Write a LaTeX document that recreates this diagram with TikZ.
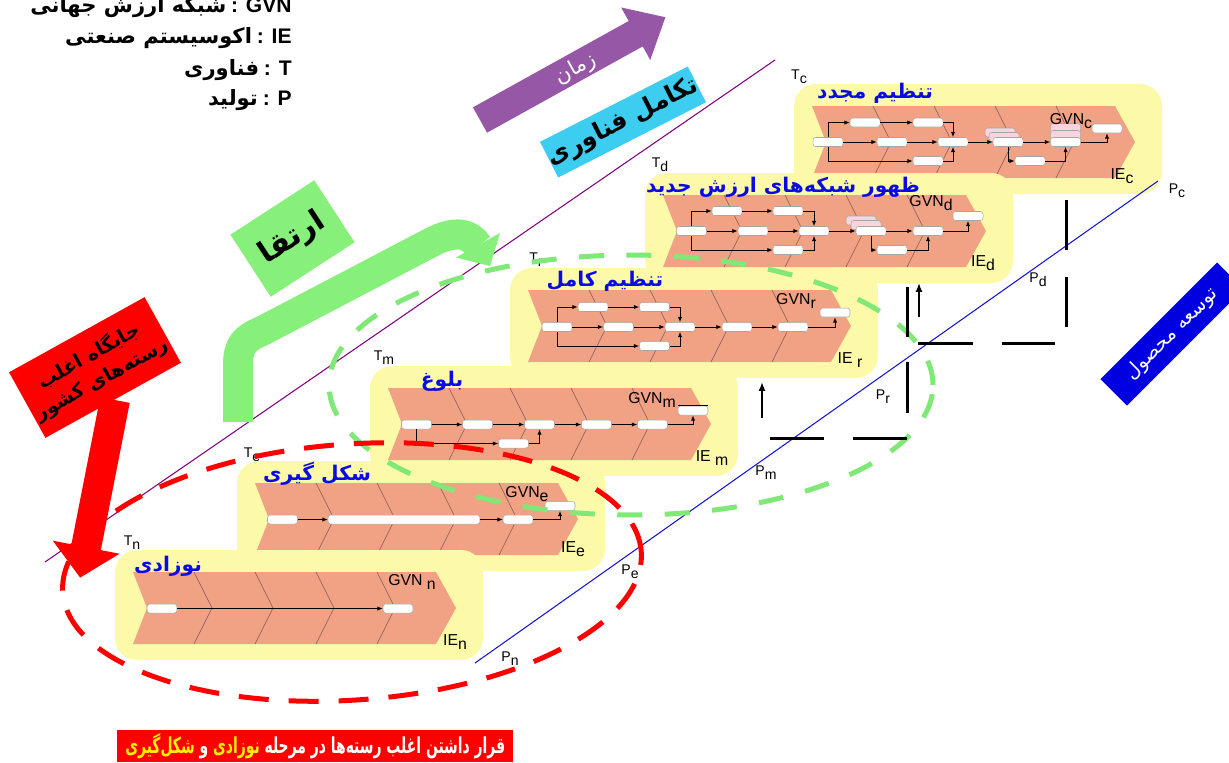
\documentclass[tikz,border=0pt]{standalone}
\usepackage{fontspec}
\setmainfont{Liberation Sans}
\newfontfamily\fa[Script=Arabic]{DejaVu Sans}
\TeXXeTstate=1
\usetikzlibrary{arrows.meta}
\definecolor{ylw}{RGB}{252,250,168}
\definecolor{slm}{RGB}{242,162,132}
\definecolor{dvl}{RGB}{130,90,80}
\definecolor{prp}{RGB}{150,88,166}
\definecolor{cyn}{RGB}{60,205,240}
\definecolor{lgr}{RGB}{134,240,122}
\definecolor{dgr}{RGB}{128,232,118}
\definecolor{bbx}{RGB}{0,0,225}
\definecolor{ttl}{RGB}{10,10,230}
\definecolor{pnk}{RGB}{250,212,220}
\definecolor{plin}{RGB}{128,0,128}
\definecolor{blin}{RGB}{20,20,210}
\newcommand\sbs[1]{\raisebox{-0.55ex}{#1}}
\newcommand\stagebg[2]{%
  \fill[ylw,rounded corners=0.44cm] (#1-18,#2-22) rectangle (#1+350,#2+88);
  \fill[slm] (#1,#2) -- (#1+303,#2) -- (#1+323,#2+36) -- (#1+303,#2+72) -- (#1,#2+72) -- (#1+14,#2+36) -- cycle;
  \foreach \k in {1,2,3,4}{\draw[dvl,line width=0.35pt] (#1+61*\k,#2) -- (#1+61*\k+18,#2+36) -- (#1+61*\k,#2+72);}
}
\begin{document}
\begin{tikzpicture}[x=0.02cm,y=-0.02cm,
  pb/.style={draw=black!35, fill=white, rounded corners=1.5pt, minimum width=0.6cm, minimum height=0.18cm, inner sep=0pt, line width=0.3pt},
  pk/.style={pb, fill=pnk},
  ar/.style={-{Latex[length=3pt,width=2.4pt]}, line width=0.55pt},
  lbl/.style={font=\fontsize{9}{10}\selectfont, inner sep=0pt},
  tl/.style={font=\fontsize{8}{9}\selectfont, inner sep=0pt},
  ttlst/.style={text=ttl, font=\fontsize{11.5}{13}\fa\bfseries, inner sep=0pt},
  stair/.style={line width=0.06cm, black},
]
\useasboundingbox (0,0) rectangle (1229,762);
\clip (0,0) rectangle (1229,762);

% technology axis
\coordinate (tp0) at (45,562); \coordinate (tp1) at (775,60);
\draw[plin, line width=0.6pt] (tp0) -- (tp1);
\node[tl] (Tn) at (132,543) {T\sbs{n}};
\node[tl] (Te) at (252,455) {T\sbs{e}};
\node[tl] (Tm) at (384,358) {T\sbs{m}};
\node[tl] (Tr) at (536,260) {T\sbs{r}};
\node[tl] (Td) at (660,165) {T\sbs{d}};
\node[tl] (Tc) at (799,77) {T\sbs{c}};

% ---- stage c
\stagebg{812}{106}
\node[ttlst] (tc) at (875,93) {\beginR تنظیم مجدد\endR};
\node[pk] (cGa) at (1000,132.5) {};
\node[pk] (cGb) at (1004,137) {};
\node[pb] (cG) at (1008,142) {};
\node[pk] (cIa) at (1065.5,128) {};
\node[pk] (cIb) at (1065.5,135) {};
\node[pb] (cI) at (1065.5,142) {};
\node[pb] (cA) at (828,142) {};
\node[pb] (cB) at (865,122.5) {};
\node[pb] (cC) at (928,122.5) {};
\node[pb] (cD) at (892,142) {};
\node[pb] (cE) at (953,142) {};
\node[pb] (cF) at (928,161) {};
\node[pb] (cH) at (1030,161) {};
\node[pb] (cJ) at (1107,128.5) {};
\draw[ar] (cA.north) |- (cB.west);
\draw[ar] (cA.south) |- (cF.west);
\draw[ar] (cB) -- (cC);
\draw[ar] (cC.east) -| (cE.north);
\draw[ar] (cA) -- (cD);
\draw[ar] (cD) -- (cE);
\draw[ar] (cF.east) -| (cE.south);
\draw[ar] (cE) -- (cG);
\draw[ar] (cG.south) |- (cH.west);
\draw[ar] (cG) -- (cI);
\draw[ar] (cH.east) -| (cI.south);
\draw[ar] (cI.east) -| (cJ.south);
\node[lbl] (gc) at (1071,121) {GVN\sbs{c}};
\node[lbl] (iec) at (1122,176) {IE\sbs{c}};

% ---- stage d
\stagebg{663}{195}
\node[ttlst] (td) at (783,187) {\beginR ظهور شبکه‌های ارزش جدید\endR};
\node[pk] (dGa) at (861,220.5) {};
\node[pk] (dGb) at (866,225) {};
\node[pb] (dG) at (871,231) {};
\node[pb] (dA) at (691.5,231) {};
\node[pb] (dB) at (727,211) {};
\node[pb] (dC) at (788,211) {};
\node[pb] (dD) at (753,231) {};
\node[pb] (dE) at (814,231) {};
\node[pb] (dF) at (788,250) {};
\node[pb] (dH) at (892,250) {};
\node[pb] (dI) at (928,231) {};
\node[pb] (dJ) at (968,216) {};
\draw[ar] (dA.north) |- (dB.west);
\draw[ar] (dA.south) |- (dF.west);
\draw[ar] (dB) -- (dC);
\draw[ar] (dC.east) -| (dE.north);
\draw[ar] (dA) -- (dD);
\draw[ar] (dD) -- (dE);
\draw[ar] (dF.east) -| (dE.south);
\draw[ar] (dE) -- (dG);
\draw[ar] (dG.south) |- (dH.west);
\draw[ar] (dG) -- (dI);
\draw[ar] (dH.east) -| (dI.south);
\draw[ar] (dI.east) -| (dJ.south);
\node[lbl] (gd) at (931,203) {GVN\sbs{d}};
\node[lbl] (ied) at (983,263) {IE\sbs{d}};

% ---- stage r
\stagebg{528}{290}
\node[ttlst] (tr) at (605,281) {\beginR تنظیم کامل\endR};
\node[pb] (rA) at (557,327) {};
\node[pb] (rB) at (593,307) {};
\node[pb] (rC) at (654.5,307) {};
\node[pb] (rD) at (618.5,327) {};
\node[pb] (rE) at (680,327) {};
\node[pb] (rF) at (654.5,346) {};
\node[pb] (rG) at (737,327) {};
\node[pb] (rH) at (793,327) {};
\node[pb] (rI) at (835,312.5) {};
\draw[ar] (rA.north) |- (rB.west);
\draw[ar] (rA.south) |- (rF.west);
\draw[ar] (rB) -- (rC);
\draw[ar] (rC.east) -| (rE.north);
\draw[ar] (rA) -- (rD);
\draw[ar] (rD) -- (rE);
\draw[ar] (rF.east) -| (rE.south);
\draw[ar] (rE) -- (rG);
\draw[ar] (rG) -- (rH);
\draw[ar] (rH.east) -| (rI.south);
\node[lbl] (gr) at (796,301) {GVN\sbs{r}};
\node[lbl] (ier) at (850,360) {IE \sbs{r}};

% ---- stage m
\stagebg{388}{388}
\node[ttlst] (tm) at (442,381) {\beginR بلوغ\endR};
\node[pb] (m1) at (416.5,424.5) {};
\node[pb] (m2) at (477.5,424.5) {};
\node[pb] (m3) at (539.5,424.5) {};
\node[pb] (m4) at (596.5,424.5) {};
\node[pb] (m5) at (652.5,424.5) {};
\node[pb] (m6) at (693,410.5) {};
\node[pb] (m7) at (513.5,443.5) {};
\draw[line width=0.5pt] (m6.north west) -- (m6.north east);
\draw[ar] (m1) -- (m2);
\draw[ar] (m2) -- (m3);
\draw[ar] (m3) -- (m4);
\draw[ar] (m4) -- (m5);
\draw[ar] (m5.east) -| (m6.south);
\draw[ar] (m1.south) |- (m7.west);
\draw[ar] (m7.east) -| (m3.south);
\node[lbl] (gm) at (652,400) {GVN\sbs{m}};
\node[lbl] (iem) at (712,458) {IE \sbs{m}};

% ---- stage e
\stagebg{255}{483}
\node[ttlst] (te) at (317,474) {\beginR شکل گیری\endR};
\node[pb] (e1) at (282.5,519.5) {};
\node[pb, minimum width=3.04cm] (e2) at (404,519.5) {};
\node[pb] (e3) at (518,519.5) {};
\node[pb] (e4) at (560,506) {};
\draw[ar] (e1) -- (e2);
\draw[ar] (e2) -- (e3);
\draw[ar] (e3.east) -| (e4.south);
\node[lbl] (ge) at (527,494) {GVN\sbs{e}};
\node[lbl] (iee) at (573,549) {IE\sbs{e}};

% ---- stage n
\stagebg{133}{572}
\node[ttlst] (tn) at (168,566) {\beginR نوزادی\endR};
\node[pb] (n1) at (162,608.5) {};
\node[pb] (n2) at (398,608.5) {};
\draw[ar] (n1) -- (n2);
\node[lbl] (gn) at (412,582) {GVN \sbs{n}};
\node[lbl] (ien) at (455,642) {IE\sbs{n}};

% production axis
\coordinate (pp0) at (475,663); \coordinate (pp1) at (1158,181);
\draw[blin, line width=0.6pt] (pp0) -- (pp1);
\node[tl] (Pn) at (510,659) {P\sbs{n}};
\node[tl] (Pe) at (630,572) {P\sbs{e}};
\node[tl] (Pm) at (766,473) {P\sbs{m}};
\node[tl] (Pr) at (883,397) {P\sbs{r}};
\node[tl] (Pd) at (1038,280) {P\sbs{d}};
\node[tl] (Pc) at (1177,191) {P\sbs{c}};

% dashed ellipses
\begin{scope}[shift={(631,385)}]
\draw[dgr, line width=0.1cm, dash pattern=on 0.5cm off 0.45cm] (0,0) ellipse [x radius=6.04cm, y radius=2.6cm];
\end{scope}
\begin{scope}[shift={(352,572)}, rotate=4]
\draw[red, line width=0.1cm, dash pattern=on 0.6cm off 0.4cm] (0,0) ellipse [x radius=5.8cm, y radius=2.56cm];
\end{scope}

% staircase
\draw[stair] (770,438) -- (824,438);
\draw[stair] (853,438) -- (907,438);
\draw[stair] (907,413) -- (907,362);
\draw[stair] (907,337) -- (907,287);
\draw[stair] (918,343) -- (973,343);
\draw[stair] (1002,343) -- (1055,343);
\draw[stair] (1066,327) -- (1066,277);
\draw[stair] (1066,250) -- (1066,200);
\coordinate (ua0) at (762,418); \coordinate (ua1) at (762,382);
\coordinate (ub0) at (919,317); \coordinate (ub1) at (919,283);
\draw[line width=0.05cm, -{Latex[length=5pt,width=4pt]}] (ua0) -- (ua1);
\draw[line width=0.05cm, -{Latex[length=5pt,width=4pt]}] (ub0) -- (ub1);

% green U arrow and box
\draw[lgr, line width=0.6cm] (238,422) -- (238,365) .. controls (238,345) and (245,338) .. (262,331) -- (432,242) .. controls (455,230) and (470,233) .. (478,246);
\fill[lgr] (456,257.5) -- (500,233) -- (490,266) -- cycle;
\node[fill=lgr, rotate=33, minimum width=2cm, minimum height=1.48cm, inner sep=0pt, font=\fontsize{17}{19}\fa\bfseries] (up) at (292.5,238.5) {\beginR ارتقا\endR};

% purple time arrow
\begin{scope}[shift={(480,120)}, rotate=29]
\fill[prp] (0,-14.5) -- (178,-14.5) -- (178,-30) -- (212,0) -- (178,30) -- (178,14.5) -- (0,14.5) -- cycle;
\end{scope}
\node[rotate=29, text=white, inner sep=0pt, font=\fontsize{12}{14}\fa] (zm) at (576,69) {\beginR زمان\endR};

% cyan box
\node[fill=cyn, rotate=27, minimum width=3.3cm, minimum height=0.8cm, inner sep=0pt, font=\fontsize{14}{16}\fa\bfseries] (tk) at (623,122) {\beginR تکامل فناوری\endR};

% red arrow and box
\begin{scope}[shift={(115,400)}, rotate=-101.1]
\fill[red] (0,-15) -- (150,-15) -- (150,-34) -- (181,0) -- (150,34) -- (150,15) -- (0,15) -- cycle;
\end{scope}
\node[fill=red, rotate=29, minimum width=3.1cm, minimum height=1.5cm, inner sep=0pt, align=center, font=\fontsize{11}{15}\fa\bfseries] (rb) at (95,367.5) {\beginR جایگاه اغلب\endR\\\beginR رسته‌های کشور\endR};

% blue box
\node[fill=bbx, rotate=45, minimum width=3.3cm, minimum height=0.75cm, inner sep=0pt, text=white, font=\fontsize{11}{13}\fa] (pd) at (1172,334) {\beginR توسعه محصول\endR};

% legend
\node[anchor=east, inner sep=0pt] (lg1) at (292,7) {{\fontsize{12}{14}\fa\bfseries\beginR شبکه ارزش جهانی\endR} {\fontsize{12}{14}\selectfont\bfseries : GVN}};
\node[anchor=east, inner sep=0pt] (lg2) at (292,38) {{\fontsize{12}{14}\fa\bfseries\beginR اکوسیستم صنعتی\endR} {\fontsize{12}{14}\selectfont\bfseries : IE}};
\node[anchor=east, inner sep=0pt] (lg3) at (292,70) {{\fontsize{12}{14}\fa\bfseries\beginR فناوری\endR} {\fontsize{12}{14}\selectfont\bfseries : T}};
\node[anchor=east, inner sep=0pt] (lg4) at (292,100) {{\fontsize{12}{14}\fa\bfseries\beginR تولید\endR} {\fontsize{12}{14}\selectfont\bfseries : P}};

% bottom banner
\node[fill=red, anchor=north west, minimum width=7.92cm, minimum height=0.64cm, inner sep=0pt] (bn) at (117,730) {};
\node[inner sep=0pt, font=\fa\bfseries] (bt) at (bn.center) {\resizebox{7.6cm}{0.4cm}{{\color{yellow}\beginR شکل‌گیری\endR} {\color{white}\beginR و\endR} {\color{yellow}\beginR نوزادی\endR} {\color{white}\beginR قرار داشتن اغلب رسته‌ها در مرحله\endR}}};
\end{tikzpicture}
\end{document}
